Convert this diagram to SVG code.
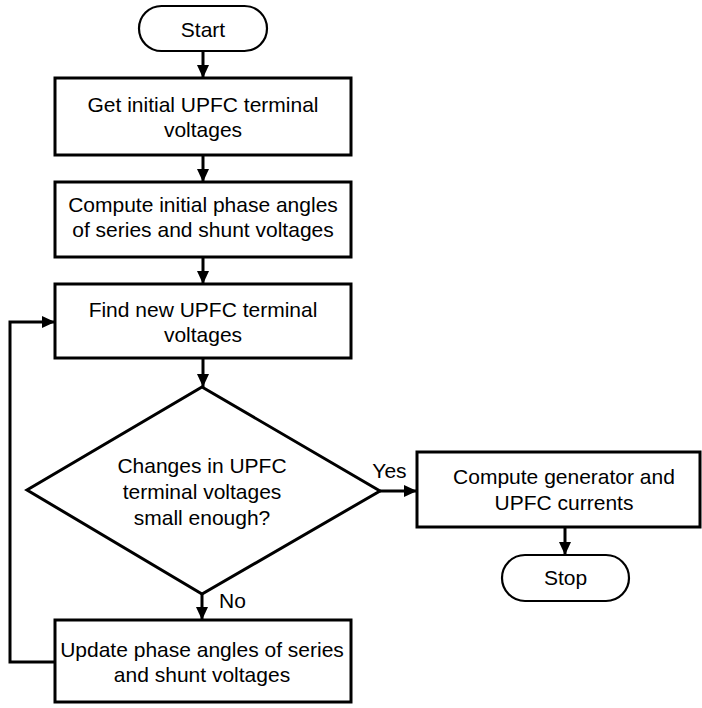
<svg xmlns="http://www.w3.org/2000/svg" width="702" height="708" viewBox="0 0 702 708">
<defs>
<style>
.box{fill:#fff;stroke:#000;stroke-width:3}
.term{fill:#fff;stroke:#000;stroke-width:2.2}
.line{fill:none;stroke:#000;stroke-width:3}
text{font-family:"Liberation Sans",Arial,sans-serif;font-size:21px;fill:#000;text-anchor:middle}
</style>
<marker id="ah" markerUnits="userSpaceOnUse" markerWidth="14" markerHeight="14" viewBox="0 0 14 12" refX="13" refY="6" orient="auto">
<path d="M0,0 L13,6 L0,12 Z" fill="#000"/>
</marker>
</defs>
<rect width="702" height="708" fill="#fff"/>
<g id="connectors">
<line class="line" x1="203" y1="52" x2="203" y2="78" marker-end="url(#ah)"/>
<line class="line" x1="203" y1="155" x2="203" y2="182" marker-end="url(#ah)"/>
<line class="line" x1="203" y1="257" x2="203" y2="284" marker-end="url(#ah)"/>
<line class="line" x1="203" y1="358" x2="203" y2="387" marker-end="url(#ah)"/>
<line class="line" x1="380" y1="491" x2="417" y2="491" marker-end="url(#ah)"/>
<line class="line" x1="202" y1="594" x2="202" y2="620" marker-end="url(#ah)"/>
<polyline class="line" points="55,662 10,662 10,322 55,322" marker-end="url(#ah)"/>
<line class="line" x1="565" y1="527" x2="565" y2="555" marker-end="url(#ah)"/>
<text x="389.5" y="478">Yes</text>
<text x="219" y="608" style="text-anchor:start">No</text>
</g>
<g id="start">
<rect class="term" x="139" y="6" width="128" height="45" rx="22.5"/>
<text x="203" y="37">Start</text>
</g>
<g id="get-initial">
<rect class="box" x="55" y="78" width="296" height="77"/>
<text x="203" y="112">Get initial UPFC terminal</text>
<text x="203" y="137">voltages</text>
</g>
<g id="compute-initial">
<rect class="box" x="55" y="182" width="296" height="75"/>
<text x="203" y="212">Compute initial phase angles</text>
<text x="203" y="237">of series and shunt voltages</text>
</g>
<g id="find-new">
<rect class="box" x="55" y="284" width="296" height="74"/>
<text x="203" y="317">Find new UPFC terminal</text>
<text x="203" y="342">voltages</text>
</g>
<g id="decision">
<polygon class="box" points="202,387 380,491 202,594 27,490"/>
<text x="202" y="473">Changes in UPFC</text>
<text x="202" y="499">terminal voltages</text>
<text x="202" y="525">small enough?</text>
</g>
<g id="update">
<rect class="box" x="55" y="620" width="296" height="82"/>
<text x="202" y="657">Update phase angles of series</text>
<text x="202" y="682">and shunt voltages</text>
</g>
<g id="compute-currents">
<rect class="box" x="417" y="452" width="283" height="75"/>
<text x="564" y="483.5">Compute generator and</text>
<text x="564" y="510">UPFC currents</text>
</g>
<g id="stop">
<rect class="term" x="502" y="555" width="127" height="46" rx="23"/>
<text x="565.5" y="585">Stop</text>
</g>
</svg>
